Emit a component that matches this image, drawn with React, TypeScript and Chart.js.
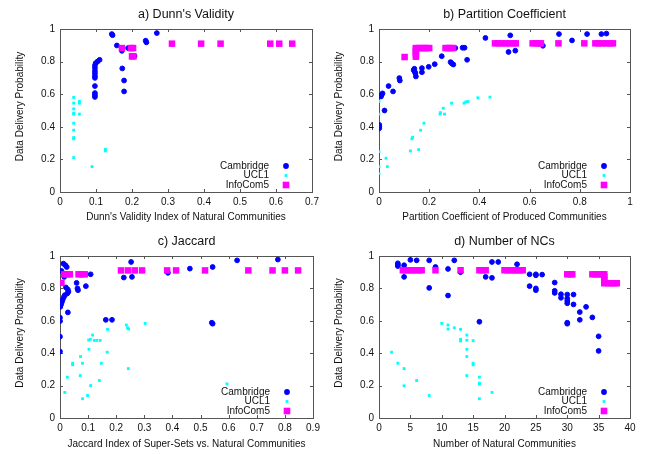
import { useEffect, useRef } from "react";
import { Chart, registerables } from "chart.js";

Chart.register(...registerables);

type P = [number, number][];

// ---------- a) Dunn's Validity ----------
const dunnCambridge: P = [
  [0.144, 0.969], [0.146, 0.962], [0.158, 0.899], [0.172, 0.866], [0.189, 0.883],
  [0.207, 0.834], [0.238, 0.928], [0.240, 0.918], [0.269, 0.975], [0.173, 0.758],
  [0.178, 0.684], [0.178, 0.617],
  [0.110, 0.811], [0.104, 0.800], [0.099, 0.790], [0.097, 0.776], [0.097, 0.760],
  [0.097, 0.742], [0.097, 0.728], [0.097, 0.712], [0.097, 0.700], [0.097, 0.650],
  [0.097, 0.607], [0.097, 0.595], [0.097, 0.583],
];
const dunnUCL1: P = [
  [0.038, 0.580], [0.038, 0.545], [0.038, 0.510], [0.038, 0.484], [0.038, 0.477],
  [0.038, 0.422], [0.038, 0.379], [0.038, 0.334], [0.038, 0.326], [0.038, 0.211],
  [0.054, 0.556], [0.054, 0.545], [0.054, 0.478],
  [0.089, 0.156], [0.126, 0.262], [0.126, 0.252],
];
const dunnInfoCom5: P = [
  [0.172, 0.883], [0.197, 0.883], [0.203, 0.883], [0.200, 0.832], [0.204, 0.832],
  [0.311, 0.910], [0.392, 0.910], [0.446, 0.910], [0.584, 0.910], [0.609, 0.910],
  [0.645, 0.910],
];

// ---------- b) Partition Coefficient ----------
const partCambridge: P = [
  [0.001, 0.412], [0.001, 0.401], [0.001, 0.391], [0.022, 0.500], [0.008, 0.586],
  [0.010, 0.595], [0.014, 0.605], [0.038, 0.650], [0.056, 0.617], [0.081, 0.699],
  [0.083, 0.684], [0.141, 0.756], [0.142, 0.739], [0.145, 0.729], [0.147, 0.709],
  [0.138, 0.748], [0.171, 0.760], [0.171, 0.735], [0.198, 0.768], [0.222, 0.784],
  [0.250, 0.833], [0.285, 0.797], [0.290, 0.789], [0.296, 0.782], [0.304, 0.883],
  [0.333, 0.885], [0.341, 0.885], [0.351, 0.811], [0.424, 0.945], [0.523, 0.961],
  [0.516, 0.859], [0.543, 0.867], [0.653, 0.897], [0.717, 0.969], [0.769, 0.930],
  [0.829, 0.969], [0.886, 0.969], [0.906, 0.972],
];
const partUCL1: P = [
  [0.0, 0.555], [0.0, 0.478], [0.0, 0.248], [0.0, 0.156], [0.0, 0.113],
  [0.028, 0.207], [0.033, 0.156], [0.125, 0.252], [0.158, 0.260], [0.131, 0.326],
  [0.134, 0.336], [0.166, 0.379], [0.179, 0.422], [0.243, 0.478], [0.245, 0.487],
  [0.256, 0.514], [0.261, 0.478], [0.289, 0.545], [0.339, 0.545], [0.346, 0.553],
  [0.355, 0.555], [0.394, 0.578], [0.442, 0.582],
];
const partInfoCom5: P = [
  [0.102, 0.828], [0.147, 0.830], [0.147, 0.845], [0.147, 0.860], [0.147, 0.875],
  [0.147, 0.883], [0.160, 0.883], [0.170, 0.883], [0.180, 0.883], [0.190, 0.883],
  [0.200, 0.883], [0.265, 0.883], [0.275, 0.883], [0.285, 0.883], [0.295, 0.883],
  [0.462, 0.912], [0.475, 0.912], [0.490, 0.912], [0.505, 0.912], [0.520, 0.912],
  [0.535, 0.912], [0.545, 0.912], [0.612, 0.912], [0.625, 0.912], [0.638, 0.912],
  [0.645, 0.912], [0.715, 0.912], [0.818, 0.912], [0.862, 0.912], [0.875, 0.912],
  [0.890, 0.912], [0.905, 0.912], [0.920, 0.912], [0.932, 0.912],
];

// ---------- c) Jaccard ----------
const jacCambridge: P = [
  [0.012, 0.953], [0.019, 0.943], [0.024, 0.932], [0.005, 0.908], [0.015, 0.871],
  [0.021, 0.806], [0.028, 0.793], [0.030, 0.779], [0.026, 0.769], [0.017, 0.758],
  [0.014, 0.748], [0.010, 0.732], [0.007, 0.717], [0.004, 0.701], [0.001, 0.686],
  [0.028, 0.652], [0.0, 0.619], [0.0, 0.598], [0.0, 0.502], [0.0, 0.410],
  [0.059, 0.834], [0.062, 0.800], [0.064, 0.789], [0.092, 0.814], [0.109, 0.887],
  [0.163, 0.606], [0.185, 0.606], [0.227, 0.867], [0.253, 0.963], [0.256, 0.871],
  [0.384, 0.896], [0.462, 0.922], [0.543, 0.932], [0.630, 0.973], [0.775, 0.978],
  [0.540, 0.588], [0.543, 0.582],
];
const jacUCL1: P = [
  [0.017, 0.158], [0.026, 0.252], [0.045, 0.338], [0.045, 0.328], [0.073, 0.379],
  [0.080, 0.338], [0.072, 0.262], [0.080, 0.119], [0.098, 0.139], [0.109, 0.200],
  [0.103, 0.424], [0.102, 0.481], [0.108, 0.486], [0.116, 0.512], [0.122, 0.479],
  [0.131, 0.479], [0.143, 0.479], [0.140, 0.231], [0.147, 0.338], [0.168, 0.406],
  [0.169, 0.547], [0.236, 0.574], [0.240, 0.557], [0.244, 0.549], [0.243, 0.305],
  [0.303, 0.584], [0.594, 0.211],
];
const jacInfoCom5: P = [
  [0.005, 0.834], [0.015, 0.887], [0.025, 0.887], [0.035, 0.887], [0.066, 0.887],
  [0.077, 0.887], [0.088, 0.887], [0.217, 0.911], [0.242, 0.911], [0.266, 0.911],
  [0.292, 0.911], [0.381, 0.911], [0.413, 0.911], [0.516, 0.911], [0.670, 0.911],
  [0.756, 0.911], [0.800, 0.911], [0.847, 0.911],
];

// ---------- d) Number of NCs ----------
const ncCambridge: P = [
  [3, 0.955], [3, 0.945], [3, 0.938], [4, 0.943], [4, 0.871], [5, 0.976], [6, 0.973],
  [8, 0.973], [8, 0.803], [9, 0.932], [11, 0.920], [11, 0.756], [12, 0.973], [13, 0.900],
  [16, 0.594], [17, 0.871], [18, 0.963], [18, 0.865], [19, 0.963], [22, 0.949],
  [24, 0.887], [24, 0.814], [25, 0.887], [25, 0.881], [25, 0.800], [25, 0.789],
  [26, 0.885], [28, 0.836], [28, 0.785], [28, 0.772], [29, 0.764], [29, 0.742],
  [30, 0.762], [30, 0.738], [30, 0.722], [30, 0.708], [30, 0.588], [30, 0.582],
  [31, 0.762], [31, 0.701], [32, 0.654], [32, 0.606], [33, 0.686], [34, 0.621],
  [35, 0.504], [35, 0.414],
];
const ncUCL1: P = [
  [2, 0.406], [3, 0.338], [4, 0.305], [4, 0.199], [6, 0.231], [8, 0.139], [10, 0.584],
  [11, 0.574], [11, 0.549], [12, 0.557], [13, 0.547], [13, 0.486], [13, 0.475],
  [14, 0.512], [14, 0.480], [14, 0.424], [14, 0.379], [14, 0.262], [15, 0.477],
  [15, 0.338], [15, 0.328], [16, 0.252], [16, 0.215], [16, 0.209], [16, 0.119],
  [18, 0.158],
];
const ncInfoCom5: P = [
  [3.8, 0.912], [4.3, 0.912], [4.8, 0.912], [5.3, 0.912], [5.8, 0.912], [6.3, 0.912],
  [6.8, 0.912], [9, 0.912], [13, 0.912], [16, 0.912], [16.5, 0.912], [17, 0.912],
  [20, 0.912], [20.5, 0.912], [21, 0.912], [21.5, 0.912], [22, 0.912], [22.5, 0.912],
  [22.9, 0.912], [30, 0.887], [30.5, 0.887], [30.8, 0.887], [34, 0.887], [34.5, 0.887],
  [35, 0.887], [35.5, 0.887], [35.9, 0.887], [35.9, 0.870], [35.9, 0.850], [35.9, 0.832],
  [36.5, 0.832], [37, 0.832], [37.5, 0.832], [37.9, 0.832],
];

const seriesNames = ["Cambridge", "UCL1", "InfoCom5"];
const seriesColors = ["#0000ff", "#00ffff", "#ff00ff"];
const yAxisTitle = "Data Delivery Probability";

const panels = [
  {
    title: "a) Dunn's Validity",
    xTitle: "Dunn's Validity Index of Natural Communities",
    xMax: 0.7, xStep: 0.1,
    data: [dunnCambridge, dunnUCL1, dunnInfoCom5],
    box: { left: 0, top: 0, w: 328, h: 227 },
    area: { l: 60, t: 29, r: 312, b: 192 },
  },
  {
    title: "b) Partition Coefficient",
    xTitle: "Partition Coefficient of Produced Communities",
    xMax: 1, xStep: 0.2,
    data: [partCambridge, partUCL1, partInfoCom5],
    box: { left: 328, top: 0, w: 329, h: 227 },
    area: { l: 51, t: 29, r: 302, b: 192 },
  },
  {
    title: "c) Jaccard",
    xTitle: "Jaccard Index of Super-Sets vs. Natural Communities",
    xMax: 0.9, xStep: 0.1,
    data: [jacCambridge, jacUCL1, jacInfoCom5],
    box: { left: 0, top: 227, w: 328, h: 227 },
    area: { l: 60, t: 29, r: 313, b: 191 },
  },
  {
    title: "d) Number of NCs",
    xTitle: "Number of Natural Communities",
    xMax: 40, xStep: 5,
    data: [ncCambridge, ncUCL1, ncInfoCom5],
    box: { left: 328, top: 227, w: 329, h: 227 },
    area: { l: 51, t: 29, r: 302, b: 191 },
  },
];

const FONT = "'Liberation Sans', Arial, Helvetica, sans-serif";
const TEXT = "#111111";
const FRAME = "#555555";

const fmt = (v: number | string) => String(Number(Number(v).toFixed(3)));

function drawMarker(ctx: CanvasRenderingContext2D, i: number, x: number, y: number) {
  ctx.fillStyle = seriesColors[i];
  if (i === 0) {
    ctx.beginPath();
    ctx.arc(x, y, 2.9, 0, Math.PI * 2);
    ctx.fill();
  } else if (i === 1) {
    ctx.fillRect(x - 1.4, y - 1.4, 2.8, 2.8);
  } else {
    ctx.fillRect(x - 3.3, y - 3.3, 6.6, 6.6);
  }
}

function makeFramePlugin(cfg: (typeof panels)[number]) {
  return {
    id: "frame",
    beforeDatasetsDraw(chart: any) {
      const { ctx, chartArea: a, scales } = chart;
      ctx.save();
      ctx.strokeStyle = FRAME;
      ctx.lineWidth = 1;
      ctx.strokeRect(Math.round(a.left) + 0.5, Math.round(a.top) + 0.5,
        Math.round(a.right - a.left), Math.round(a.bottom - a.top));
      const tl = 3;
      ctx.beginPath();
      scales.x.ticks.forEach((t: any) => {
        const px = Math.round(scales.x.getPixelForValue(t.value)) + 0.5;
        ctx.moveTo(px, a.bottom); ctx.lineTo(px, a.bottom - tl);
        ctx.moveTo(px, a.top); ctx.lineTo(px, a.top + tl);
      });
      scales.y.ticks.forEach((t: any) => {
        const py = Math.round(scales.y.getPixelForValue(t.value)) + 0.5;
        ctx.moveTo(a.left, py); ctx.lineTo(a.left + tl, py);
        ctx.moveTo(a.right, py); ctx.lineTo(a.right - tl, py);
      });
      ctx.stroke();
      ctx.restore();
    },
    afterDraw(chart: any) {
      const { ctx, chartArea: a } = chart;
      ctx.save();
      ctx.fillStyle = TEXT;
      ctx.textAlign = "center";
      ctx.textBaseline = "middle";
      ctx.font = `12.5px ${FONT}`;
      ctx.fillText(cfg.title, (a.left + a.right) / 2, 15);
      ctx.font = `10px ${FONT}`;
      ctx.fillText(cfg.xTitle, (a.left + a.right) / 2, 217);
      ctx.save();
      ctx.translate(a.left - 40, (a.top + a.bottom) / 2 - 4);
      ctx.rotate(-Math.PI / 2);
      ctx.fillText(yAxisTitle, 0, 0);
      ctx.restore();
      // legend
      ctx.textAlign = "right";
      const rows = [a.bottom - 26, a.bottom - 16.5, a.bottom - 7];
      seriesNames.forEach((name, i) => {
        ctx.fillStyle = TEXT;
        ctx.fillText(name, a.right - 43, rows[i]);
        drawMarker(ctx, i, a.right - 26, rows[i]);
      });
      ctx.restore();
    },
  };
}

function Panel({ cfg }: { cfg: (typeof panels)[number] }) {
  const ref = useRef<HTMLCanvasElement>(null);
  useEffect(() => {
    const { box, area } = cfg;
    const styles = [
      { pointStyle: "circle", radius: 2.4, borderWidth: 1 },
      { pointStyle: "rect", radius: 2.0, borderWidth: 0 },
      { pointStyle: "rect", radius: 4.6, borderWidth: 0 },
    ];
    const chart = new Chart(ref.current as HTMLCanvasElement, {
      type: "scatter",
      data: {
        datasets: cfg.data.map((pts, i) => ({
          label: seriesNames[i],
          data: pts.map(([x, y]) => ({ x, y })),
          backgroundColor: seriesColors[i],
          borderColor: seriesColors[i],
          pointStyle: styles[i].pointStyle as any,
          pointRadius: styles[i].radius,
          pointBorderWidth: styles[i].borderWidth,
          pointHoverRadius: styles[i].radius,
          order: 3 - i,
        })),
      },
      options: {
        responsive: false,
        animation: false,
        events: [],
        layout: { padding: { left: 0, top: area.t, right: box.w - area.r, bottom: 0 } },
        plugins: {
          legend: { display: false },
          tooltip: { enabled: false },
          title: { display: false },
        },
        scales: {
          x: {
            type: "linear",
            min: 0,
            max: cfg.xMax,
            ticks: {
              stepSize: cfg.xStep,
              color: TEXT,
              font: { family: FONT, size: 10 },
              padding: 4,
              maxRotation: 0,
              autoSkip: false,
              callback: (v: any) => fmt(v),
            },
            grid: { display: false, drawTicks: false },
            border: { display: false },
            afterFit: (s: any) => { s.height = box.h - area.b; },
          },
          y: {
            type: "linear",
            min: 0,
            max: 1,
            ticks: {
              stepSize: 0.2,
              color: TEXT,
              font: { family: FONT, size: 10 },
              padding: 5,
              callback: (v: any) => fmt(v),
            },
            grid: { display: false, drawTicks: false },
            border: { display: false },
            afterFit: (s: any) => { s.width = area.l; },
          },
        },
      },
      plugins: [makeFramePlugin(cfg)],
    });
    return () => chart.destroy();
  }, [cfg]);
  return (
    <canvas
      ref={ref}
      width={cfg.box.w}
      height={cfg.box.h}
      style={{
        position: "absolute",
        left: cfg.box.left,
        top: cfg.box.top,
        width: cfg.box.w,
        height: cfg.box.h,
      }}
    />
  );
}

export default function App() {
  return (
    <div style={{ position: "absolute", left: 0, top: 0, width: 657, height: 454, background: "#fff" }}>
      {panels.map((p) => (
        <Panel key={p.title} cfg={p} />
      ))}
    </div>
  );
}
